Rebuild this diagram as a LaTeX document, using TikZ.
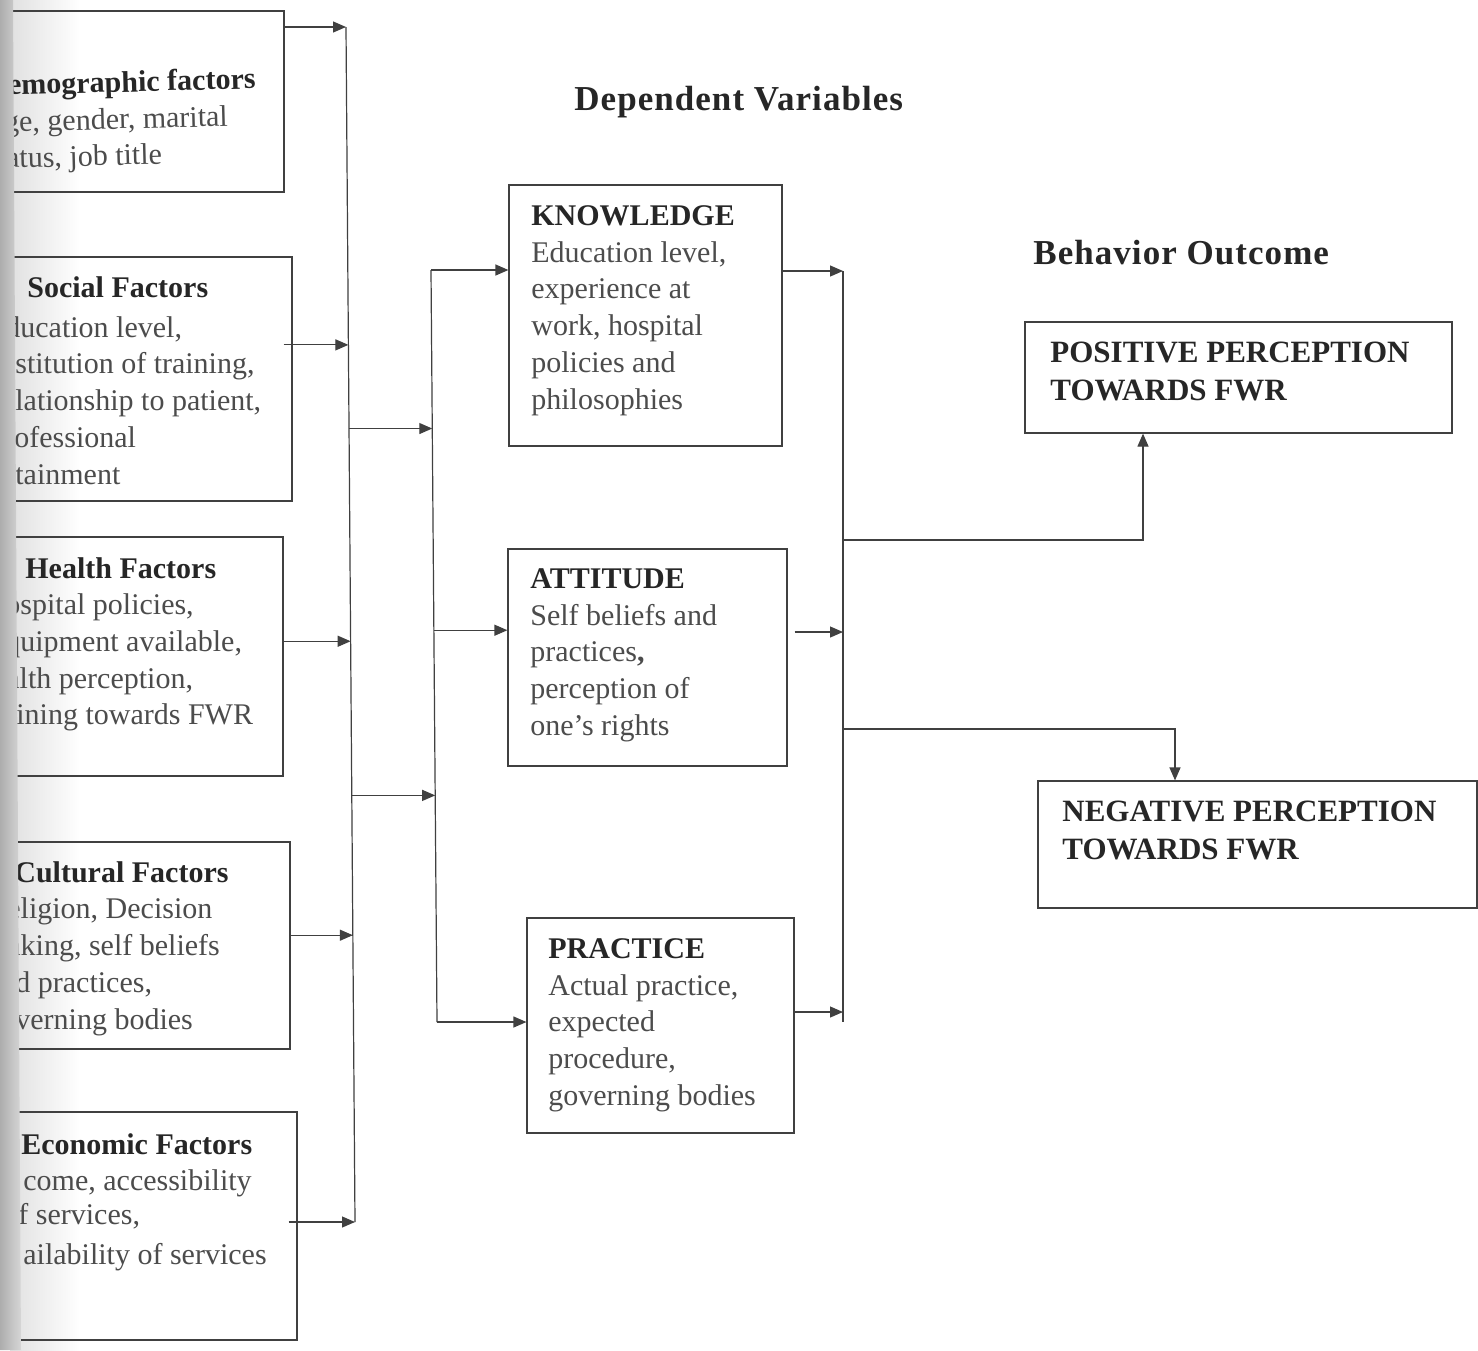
\documentclass[tikz,border=0pt]{standalone}
\usepackage{fontspec}
\setmainfont{Liberation Serif}
\newfontfamily\ttlfont[LetterSpace=3]{Liberation Serif}
\usetikzlibrary{arrows.meta,fit,calc}
\begin{document}
\begin{tikzpicture}[x=0.5pt,y=-0.5pt,
 box/.style={draw=black!75,line width=0.6pt,inner sep=0pt},
 conn/.style={draw=black!75,line width=0.6pt},
 arr/.style={conn,-{Triangle[length=6.5pt,width=5.5pt]}},
 body/.style={inner sep=0pt,text=black!70,font=\fontsize{15}{18.4}\selectfont},
 txt/.style={body,anchor=north west,align=left},
 ln/.style={body,anchor=base west},
 hd/.style={ln,text=black!85,font=\fontsize{15}{18.4}\selectfont\bfseries},
 outtxt/.style={txt,text=black!85,font=\fontsize{15.5}{18.6}\selectfont\bfseries},
 ttl/.style={anchor=base west,inner sep=0pt,text=black!85,font=\fontsize{17.5}{20}\selectfont\ttlfont\bfseries}]
\useasboundingbox (0,0) rectangle (1478,1350);
\fill[white] (0,0) rectangle (1478,1350);
\shade[left color=black!12,right color=white] (10,0) rectangle (80,1350);
\begin{scope}
\clip (0,0) rectangle (1478,1350);
% left boxes
\node[box,fit={(-30,11) (284,192)}] (demo) {};
\node[box,fit={(-30,257) (292,501)}] (soc) {};
\node[box,fit={(-30,537) (283,776)}] (hea) {};
\node[box,fit={(-30,842) (290,1049)}] (cul) {};
\node[box,fit={(-30,1112) (297,1340)}] (eco) {};
% demographic
\node[hd,rotate=1.5] (d1) at (8,95) {emographic factors};
\node[ln,rotate=1.5] (d2) at (4,132) {ge, gender, marital};
\node[ln,rotate=1.5] (d3) at (6,168) {atus, job title};
% social
\node[hd] (s1) at (27,297) {Social Factors};
\node[ln] (s2) at (5,337) {ducation level,};
\node[ln] (s3) at (15,373) {stitution of training,};
\node[ln] (s4) at (15,410) {lationship to patient,};
\node[ln] (s5) at (14,447) {ofessional};
\node[ln] (s6) at (15,484) {tainment};
% health
\node[hd] (h1) at (25,578) {Health Factors};
\node[ln] (h2) at (5,614) {ospital policies,};
\node[ln] (h3) at (5,651) {quipment available,};
\node[ln] (h4) at (6,688) {alth perception,};
\node[ln] (h5) at (16,724) {ining towards FWR};
% cultural
\node[hd] (c1) at (14,882) {Cultural Factors};
\node[ln] (c2) at (7,918) {eligion, Decision};
\node[ln] (c3) at (7,955) {aking, self beliefs};
\node[ln] (c4) at (15,992) {d practices,};
\node[ln] (c5) at (15,1029) {verning bodies};
% economic
\node[hd] (e1) at (21,1154) {Economic Factors};
\node[ln] (e2) at (23,1190) {come, accessibility};
\node[ln] (e3) at (18,1224) {f services,};
\node[ln] (e4) at (23,1264) {ailability of services};
% middle boxes
\node[box,fit={(509,185) (782,446)}] (know) {};
\node[box,fit={(508,549) (787,766)}] (att) {};
\node[box,fit={(527,918) (794,1133)}] (prac) {};
\node[txt] (knowT) at (531,205) {{\bfseries\color{black!85}KNOWLEDGE}\\Education level,\\experience at\\work, hospital\\policies and\\philosophies};
\node[txt] (attT) at (530,568) {{\bfseries\color{black!85}ATTITUDE}\\Self beliefs and\\practices{\bfseries,}\\perception of\\one’s rights};
\node[txt] (pracT) at (548,938) {{\bfseries\color{black!85}PRACTICE}\\Actual practice,\\expected\\procedure,\\governing bodies};
% outcome boxes
\node[box,fit={(1025,322) (1452,433)}] (pos) {};
\node[box,fit={(1038,781) (1477,908)}] (neg) {};
\node[outtxt] (posT) at (1050,342) {POSITIVE PERCEPTION\\TOWARDS FWR};
\node[outtxt] (negT) at (1062,801) {NEGATIVE PERCEPTION\\TOWARDS FWR};
% titles
\node[ttl] (dv) at (574,110) {Dependent Variables};
\node[ttl] (bo) at (1033,264) {Behavior Outcome};
% bus 1
\coordinate (b1t) at (346,27);
\coordinate (b1b) at (355,1222);
\draw[conn] (b1t) -- (b1b);
\draw[arr] (demo.east |- b1t) -- (b1t);
\coordinate (b1s) at ($(b1t)!0.266!(b1b)$);
\draw[arr] ([xshift=-4.5pt]soc.east |- b1s) -- (b1s);
\coordinate (b1h) at ($(b1t)!0.514!(b1b)$);
\draw[arr] (hea.east |- b1h) -- (b1h);
\coordinate (b1c) at ($(b1t)!0.760!(b1b)$);
\draw[arr] (cul.east |- b1c) -- (b1c);
\draw[arr] ([xshift=-4.5pt]eco.east |- b1b) -- (b1b);
% bus 2
\coordinate (b2t) at (431,270);
\coordinate (b2b) at (437,1022);
\draw[conn] (b2t) -- (b2b);
\coordinate (m1) at ($(b1t)!0.336!(b1b)$);
\coordinate (m2) at ($(b2t)!0.21!(b2b)$);
\draw[arr] (m1) -- (m1 -| m2);
\coordinate (n1) at ($(b1t)!0.643!(b1b)$);
\coordinate (n2) at ($(b2t)!0.698!(b2b)$);
\draw[arr] (n1) -- (n1 -| n2);
\draw[arr] (b2t) -- (know.west |- b2t);
\coordinate (b2a) at ($(b2t)!0.479!(b2b)$);
\draw[arr] (b2a) -- (att.west |- b2a);
\draw[arr] (b2b) -- (prac.west |- b2b);
% bus 3
\coordinate (b3t) at (843,271);
\coordinate (b3b) at (843,1022);
\draw[conn] (b3t) -- (b3b);
\draw[arr] (know.east |- b3t) -- (b3t);
\coordinate (b3a) at (843,632);
\draw[arr] ([xshift=3.5pt]att.east |- b3a) -- (b3a);
\coordinate (b3p) at (843,1012);
\draw[arr] (prac.east |- b3p) -- (b3p);
\coordinate (j1) at (843,540);
\draw[arr] (j1) -| ([xshift=-47.75pt]pos.south);
\coordinate (j2) at (843,729);
\draw[arr] (j2) -| ([xshift=-41.25pt]neg.north);
\end{scope}
% gutter
\shade[left color=black!32,right color=black!16] (0,0) -- (13,0) -- (21,1350) -- (0,1350) -- cycle;
\end{tikzpicture}
\end{document}
